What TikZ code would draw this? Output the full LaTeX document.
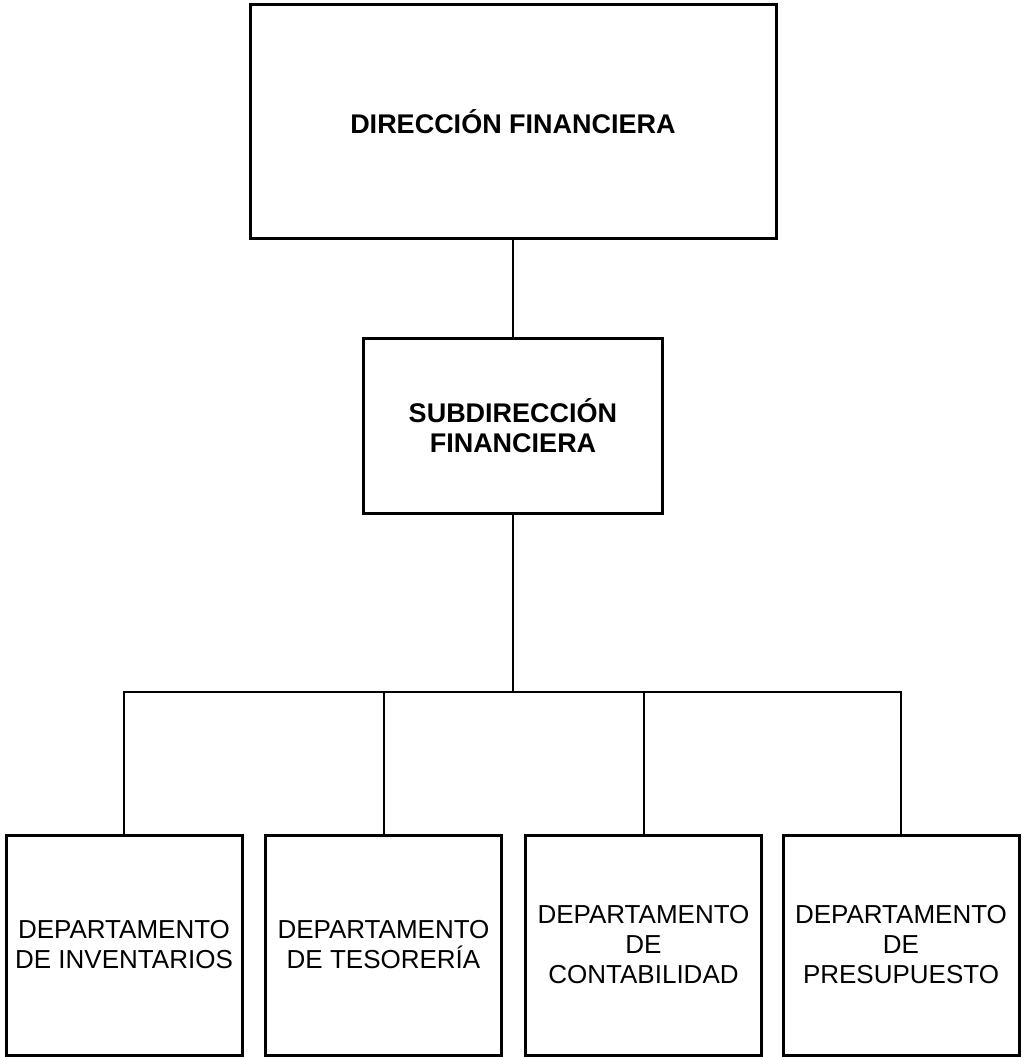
\documentclass[tikz,border=0pt]{standalone}
\usepackage{fontspec}
\setmainfont{Liberation Sans}

\begin{document}
\begin{tikzpicture}[x=1pt,y=-1pt,node distance=304pt,
    main box/.style={rectangle,draw,line width=3pt,align=center,inner sep=0pt,font=\fontsize{27}{30}\selectfont\bfseries},
    dept box/.style={rectangle,draw,line width=3pt,align=center,inner sep=0pt,
      minimum width=236pt,minimum height=220pt,font=\fontsize{26}{30}\selectfont},
    link/.style={line width=2pt}]
    \useasboundingbox (0,0) rectangle (1021,1057);
    \node[main box,minimum width=526pt,minimum height=233pt] (dir) at (513,121.5) {DIRECCIÓN FINANCIERA};
    \node[main box,minimum width=299pt,minimum height=175pt] (sub) [below of=dir] {SUBDIRECCIÓN\\FINANCIERA};
    \node[dept box] (inv) at (124,945) {DEPARTAMENTO\\DE INVENTARIOS};
    \node[dept box] (tes) [right of=inv,node distance=259.5pt] {DEPARTAMENTO\\DE TESORERÍA};
    \node[dept box] (con) [right of=tes,node distance=260pt] {DEPARTAMENTO\\DE\\CONTABILIDAD};
    \node[dept box] (pre) [right of=con,node distance=257.5pt] {DEPARTAMENTO\\DE\\PRESUPUESTO};
    \coordinate (bus) at (sub.south |- 0,692);
    \path[link]
    (dir) edge (sub)
    (sub) edge (bus);
    \foreach \d in {inv,tes,con,pre}
      \draw[link] (bus) -| (\d);
\end{tikzpicture}
\end{document}
